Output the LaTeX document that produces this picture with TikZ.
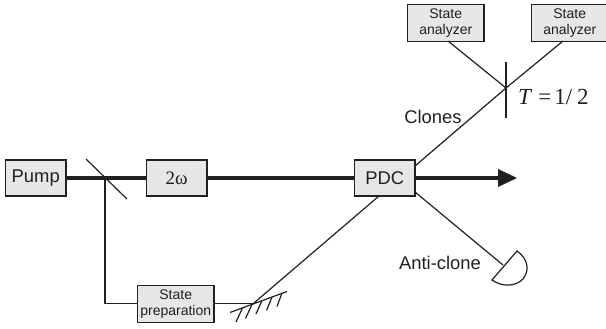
\documentclass[tikz,border=0pt]{standalone}
\usepackage{fontspec}
\setmainfont{Liberation Sans}
\newfontfamily\serifnum{Liberation Serif}
\definecolor{boxfill}{HTML}{E6E7E8}
\definecolor{ink}{HTML}{231F20}
\tikzset{
  unitbox/.style={draw=ink,fill=boxfill,line width=1.3pt,inner sep=0pt,outer sep=0pt,anchor=north west,text=ink,align=center},
  bigbox/.style={unitbox,minimum width=60.5pt,minimum height=36pt,font=\fontsize{18.4}{20}\selectfont},
  smallbox/.style={unitbox,minimum width=76.5pt,minimum height=37pt,font=\fontsize{14}{16}\selectfont},
  thinray/.style={draw=ink,line width=1.2pt},
  beam/.style={draw=ink,line width=3.2pt},
  label/.style={text=ink,font=\fontsize{18.4}{20}\selectfont,inner sep=0pt}
}
\begin{document}
\begin{tikzpicture}[x=1pt,y=-1pt]
\useasboundingbox (0,0) rectangle (606,329);
\clip (0,0) rectangle (606,329);
% boxes
\node[bigbox] (pump) at (5.5,160) {Pump};
\node[bigbox,font=\serifnum\fontsize{19}{20}\selectfont] (shg) at (146.5,160) {2ω};
\node[bigbox] (pdc) at (354.5,160) {PDC};
\node[smallbox] (prep) at (137.5,285.3) {State\\preparation};
\node[smallbox] (an1) at (407.5,4.3) {State\\analyzer};
\node[smallbox] (an2) at (531.5,4.3) {State\\analyzer};
% reference points
\coordinate (bs) at (105,178);
\coordinate (bsA) at (86,159);
\coordinate (bsB) at (127,199);
\coordinate (tip) at (517,178);
\coordinate (tipbase) at (498,178);
\coordinate (mirror) at (253,303.8);
\coordinate (split) at (506,88);
\coordinate (splitA) at (506,62);
\coordinate (splitB) at (506,118);
\coordinate (det) at (503,265);
\coordinate (m1) at (230,312.5);
\coordinate (m2) at (287,291.5);
\coordinate (corner) at (105,303.8);
\coordinate (pdcIn) at (379,196);
\coordinate (pdcUp) at (415,166);
\coordinate (pdcDown) at (415,192);
\coordinate (an1out) at (448,41);
\coordinate (an2out) at (563,41);
% pump line
\draw[beam] (pump.east) -- (shg.west);
\draw[beam] (shg.east) -- (pdc.west);
\draw[beam] (pdc.east) -- (tipbase);
\fill[ink] (tip) -- (498,169) -- (498,187) -- cycle;
% beam splitter
\draw[thinray] (bsA) -- (bsB);
\draw[thinray] (bs) -- (corner) -- (prep.west);
% mirror
\draw[thinray] (prep.east) -- (mirror);
\draw[thinray] (mirror) -- (pdcIn);
\draw[thinray] (m1) -- (m2);
\draw[thinray] (242.5,308) -- (236,322);
\draw[thinray] (252,304.5) -- (245.5,318.5);
\draw[thinray] (262,300.5) -- (256,314);
\draw[thinray] (272,297) -- (266.5,310.5);
\draw[thinray] (282,293) -- (277,306.5);
% clones
\draw[thinray] (pdcUp) -- (split);
\draw[thinray] (split) -- (an2out);
\draw[thinray] (split) -- (an1out);
\draw[thinray] (splitA) -- (splitB);
% anti-clone
\draw[thinray] (pdcDown) -- (det);
\draw[thinray,fill=white] (492,280) -- (517,251) .. controls (528,259) and (530,270) .. (523,279) .. controls (515,287) and (502,287) .. cycle;
% labels
\node[label] (clones) at (433,117) {Clones};
\node[label] (anti) at (440,263) {Anti-clone};
\node[text=ink,inner sep=0pt,anchor=west,font=\serifnum\fontsize{23}{24}\selectfont] (tlabel) at (518,97) {\textit{T}\kern6pt=\kern3pt1/\kern5pt2};
\end{tikzpicture}
\end{document}
